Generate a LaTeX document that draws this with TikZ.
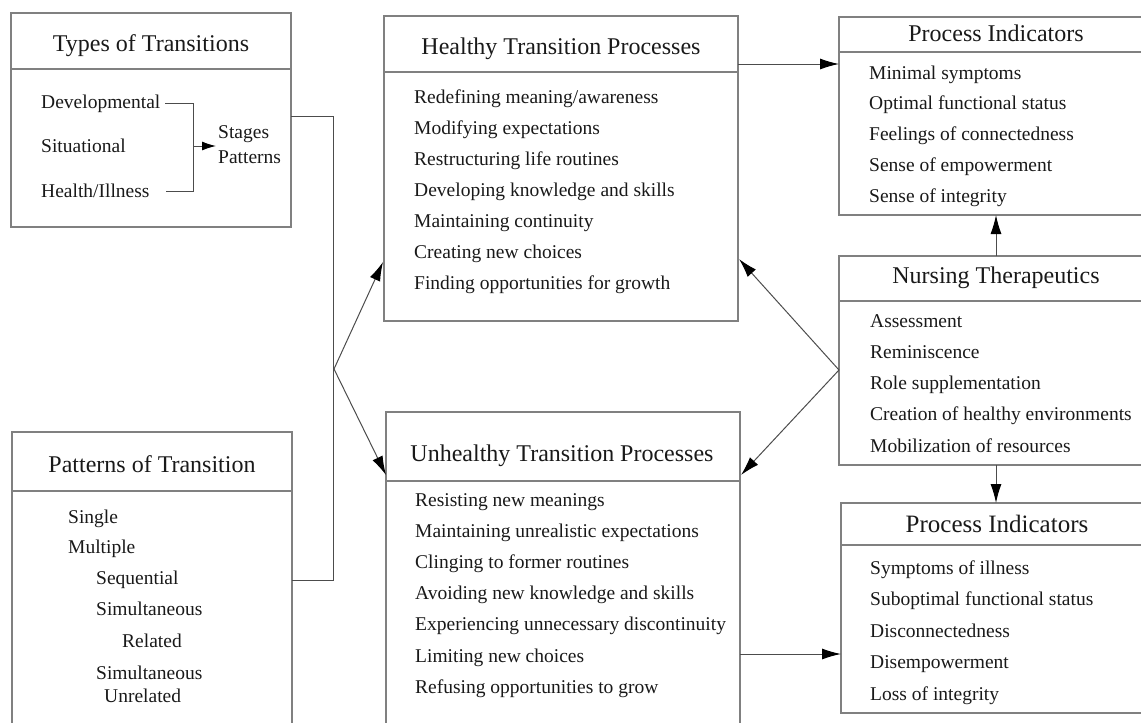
\documentclass[tikz,border=0pt]{standalone}
\usepackage{fontspec}
\setmainfont{Liberation Serif}
\usetikzlibrary{arrows.meta}
\tikzset{
  x=1pt, y=-1pt,
  box/.style={draw=black!50, line width=1.1pt, inner sep=0pt, outer sep=0pt, anchor=north west},
  divider/.style={draw=black!50, line width=1.1pt},
  ttl/.style={anchor=base, inner sep=0pt, text=black!90, font=\fontsize{24}{28}\selectfont},
  itm/.style={anchor=base west, inner sep=0pt, text=black!90, font=\fontsize{19.5}{22}\selectfont},
  conn/.style={draw=black!70, line width=1pt},
  arr/.style={conn, -{Latex[length=19pt,width=11pt,fill=black,color=black]}},
  sarr/.style={conn, -{Latex[length=14pt,width=9pt,fill=black,color=black]}}
}
\begin{document}
\begin{tikzpicture}
\useasboundingbox (0,0) rectangle (1141,723);
\begin{scope}
\clip (0,0) rectangle (1141,723);
% boxes
\node[box, minimum width=280pt, minimum height=214pt] (types) at (11,13) {};
\node[box, minimum width=280pt, minimum height=300pt] (patt) at (12,432) {};
\node[box, minimum width=354pt, minimum height=305pt] (healthy) at (384,16) {};
\node[box, minimum width=354pt, minimum height=320pt] (unhealthy) at (386,412) {};
\node[box, minimum width=320pt, minimum height=198pt] (pia) at (839,17) {};
\node[box, minimum width=320pt, minimum height=209pt] (nurs) at (839,256) {};
\node[box, minimum width=320pt, minimum height=210pt] (pib) at (841,503) {};
% dividers
\draw[divider] (types.west |- 0,69) -- (types.east |- 0,69);
\draw[divider] (patt.west |- 0,491) -- (patt.east |- 0,491);
\draw[divider] (healthy.west |- 0,72) -- (healthy.east |- 0,72);
\draw[divider] (unhealthy.west |- 0,481) -- (unhealthy.east |- 0,481);
\draw[divider] (pia.west |- 0,52) -- (pia.east |- 0,52);
\draw[divider] (nurs.west |- 0,301) -- (nurs.east |- 0,301);
\draw[divider] (pib.west |- 0,545) -- (pib.east |- 0,545);
\end{scope}
% titles
\node[ttl] (t1) at (151,51) {Types of Transitions};
\node[ttl] (t2) at (152,472) {Patterns of Transition};
\node[ttl] (t3) at (561,54) {Healthy Transition Processes};
\node[ttl] (t4) at (562,461) {Unhealthy Transition Processes};
\node[ttl] (t5) at (996,41) {Process Indicators};
\node[ttl] (t6) at (996,283) {Nursing Therapeutics};
\node[ttl, font=\fontsize{25}{29}\selectfont] (t7) at (997,532) {Process Indicators};
% types items
\node[itm] (dev) at (41,108) {Developmental};
\node[itm] (sit) at (41,152) {Situational};
\node[itm] (hea) at (41,197) {Health/Illness};
\node[itm] (stg) at (218,138) {Stages};
\node[itm] (pat) at (218,163) {Patterns};
\coordinate (d1) at (165,103);
\coordinate (d2) at (193,103);
\coordinate (h1) at (166,191);
\coordinate (h2) at (193,191);
\coordinate (m1) at (193,146);
\coordinate (m2) at (216,146);
\draw[conn] (d1) -- (d2) -- (h2) -- (h1);
\draw[sarr] (m1) -- (m2);
% patterns items
\node[itm] (p1) at (68,523) {Single};
\node[itm] (p2) at (68,553) {Multiple};
\node[itm] (p3) at (96,584) {Sequential};
\node[itm] (p4) at (96,615) {Simultaneous};
\node[itm] (p5) at (122,647) {Related};
\node[itm] (p6) at (96,679) {Simultaneous};
\node[itm] (p7) at (104,702) {Unrelated};
% healthy items
\foreach \t [count=\i] in {Redefining meaning/awareness, Modifying expectations, Restructuring life routines, Developing knowledge and skills, Maintaining continuity, Creating new choices, Finding opportunities for growth}
  \node[itm] (hi\i) at (414, {103+31*(\i-1)}) {\t};
% unhealthy items
\foreach \t [count=\i] in {Resisting new meanings, Maintaining unrealistic expectations, Clinging to former routines, Avoiding new knowledge and skills, Experiencing unnecessary discontinuity, Limiting new choices, Refusing opportunities to grow}
  \node[itm] (ui\i) at (415, {506+31.2*(\i-1)}) {\t};
% process indicators top
\foreach \t [count=\i] in {Minimal symptoms, Optimal functional status, Feelings of connectedness, Sense of empowerment, Sense of integrity}
  \node[itm] (ai\i) at (869, {79+30.8*(\i-1)}) {\t};
% nursing items
\foreach \t [count=\i] in {Assessment, Reminiscence, Role supplementation, Creation of healthy environments, Mobilization of resources}
  \node[itm] (ni\i) at (870, {327+31.25*(\i-1)}) {\t};
% process indicators bottom
\foreach \t [count=\i] in {Symptoms of illness, Suboptimal functional status, Disconnectedness, Disempowerment, Loss of integrity}
  \node[itm] (bi\i) at (870, {574+31.5*(\i-1)}) {\t};
% connectors
\coordinate (ta) at (291,116);
\coordinate (tb) at (333,116);
\coordinate (pa) at (292,580);
\coordinate (pb) at (333,580);
\coordinate (fork) at (334,369);
\coordinate (hin) at (383,262);
\coordinate (uin) at (386,475);
\draw[conn] (ta) -- (tb) -- (pb) -- (pa);
\draw[arr] (fork) -- (hin);
\draw[arr] (fork) -- (uin);
\coordinate (hout) at (738,64);
\coordinate (aout) at (839,64);
\draw[arr] (hout) -- (aout);
\coordinate (nfork) at (839,370);
\coordinate (hr) at (739,259);
\coordinate (ur) at (741,475);
\draw[arr] (nfork) -- (hr);
\draw[arr] (nfork) -- (ur);
\draw[arr] (nurs.north -| 996,0) -- (pia.south -| 996,0);
\draw[arr] (nurs.south -| 996,0) -- (pib.north -| 996,0);
\coordinate (uout) at (740,654);
\coordinate (bin) at (841,654);
\draw[arr] (uout) -- (bin);
\end{tikzpicture}
\end{document}
